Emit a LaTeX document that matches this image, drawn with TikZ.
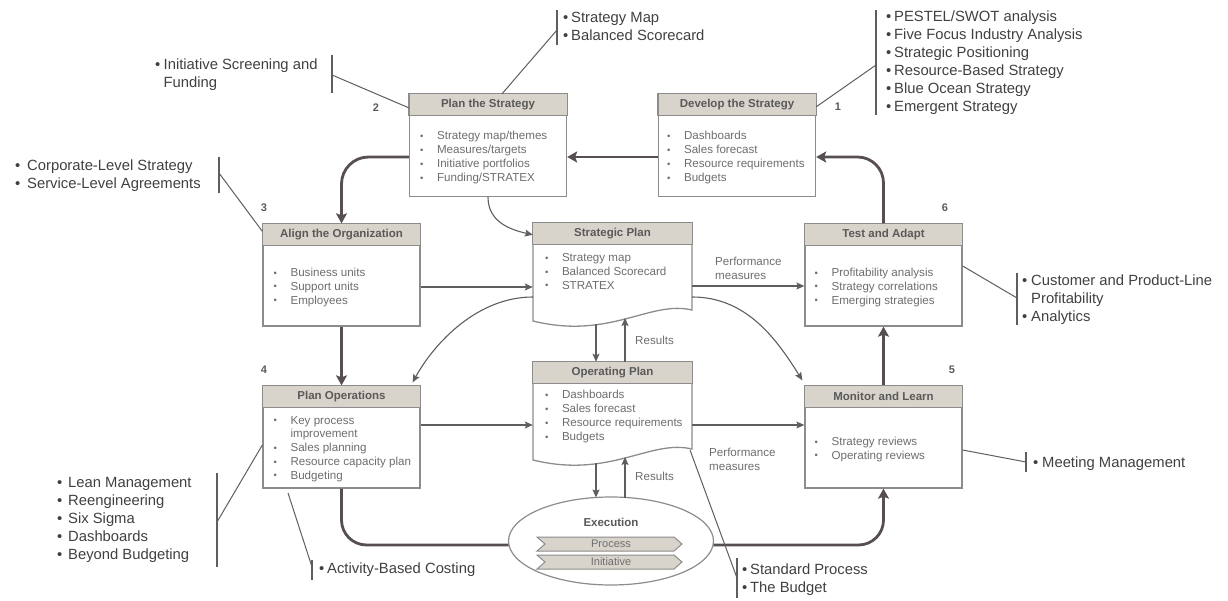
\documentclass[tikz,border=0pt]{standalone}
\usepackage{fontspec}
\setmainfont{Liberation Sans}
\usetikzlibrary{arrows.meta,shapes.geometric,calc}
\definecolor{boxline}{HTML}{8C8C8C}
\definecolor{headfill}{HTML}{D9D4CB}
\definecolor{headtext}{HTML}{5A5A5A}
\definecolor{bodytext}{HTML}{6E6E6E}
\definecolor{sidetext}{HTML}{404040}
\definecolor{thickc}{HTML}{574F4F}
\definecolor{thinc}{HTML}{5E5E5E}
\newcommand{\bbul}{\makebox[17pt][l]{\raisebox{0.3pt}{\fontsize{9.5}{9.5}\selectfont •}}}
\newcommand{\sbul}[1]{\makebox[#1][l]{•}}
\newcommand{\boxhead}[2]{%
  \draw[draw=boxline, line width=1.3pt, fill=headfill] (#1.north west) rectangle ([yshift=-22pt]#1.north east);
  \node[head] at ([yshift=-11pt]#1.north) {#2};}
\begin{document}
\begin{tikzpicture}[x=1pt,y=-1pt,
  box/.style={draw=boxline, line width=1.3pt, fill=white, minimum width=157pt, minimum height=102pt, inner sep=0pt},
  ghost/.style={inner sep=0pt, minimum width=159pt, minimum height=99pt},
  head/.style={font=\fontsize{11.5}{13}\selectfont\bfseries, text=headtext, inner sep=0pt},
  body/.style={anchor=north west, inner sep=0pt, align=left, font=\fontsize{11.6}{13.8}\selectfont, text=bodytext},
  side/.style={anchor=north west, inner sep=0pt, align=left, font=\fontsize{14.8}{18}\selectfont, text=sidetext},
  num/.style={font=\fontsize{11}{13}\selectfont\bfseries, text=headtext, inner sep=0pt},
  lab/.style={anchor=north west, inner sep=0pt, align=left, font=\fontsize{11.6}{14}\selectfont, text=bodytext},
  thickline/.style={draw=thickc, line width=2.8pt},
  thickarr/.style={thickline, -{Stealth[length=10pt,width=11pt,inset=2pt]}},
  thinarr/.style={draw=thinc, line width=1.1pt, -{Stealth[length=8pt,width=7pt,inset=1.5pt]}},
  callout/.style={draw=thinc, line width=1pt},
  bar/.style={draw=thinc, line width=1.2pt},
  shapeline/.style={draw=boxline, line width=1.3pt, fill=white},
]
\useasboundingbox (0,0) rectangle (1228,601);

% ---------- boxes ----------
\node[box] (ps) at (488,145.5) {};
\boxhead{ps}{Plan the Strategy}
\node[body] at ([xshift=11pt,yshift=-37.5pt]ps.north west) {\bbul Strategy map/themes\\\bbul Measures/targets\\\bbul Initiative portfolios\\\bbul Funding/STRATEX};

\node[box] (ds) at (737,145.5) {};
\boxhead{ds}{Develop the Strategy}
\node[body] at ([xshift=9pt,yshift=-37.5pt]ds.north west) {\bbul Dashboards\\\bbul Sales forecast\\\bbul Resource requirements\\\bbul Budgets};

\node[box] (al) at (341.5,275) {};
\boxhead{al}{Align the Organization}
\node[body] at ([xshift=11pt,yshift=-44.5pt]al.north west) {\bbul Business units\\\bbul Support units\\\bbul Employees};

\node[box] (ta) at (883.5,275) {};
\boxhead{ta}{Test and Adapt}
\node[body] at ([xshift=10pt,yshift=-44.5pt]ta.north west) {\bbul Profitability analysis\\\bbul Strategy correlations\\\bbul Emerging strategies};

\node[box] (po) at (341.5,437) {};
\boxhead{po}{Plan Operations}
\node[body] at ([xshift=11pt,yshift=-30.5pt]po.north west) {\bbul Key process\\\hspace*{17pt}improvement\\\bbul Sales planning\\\bbul Resource capacity plan\\\bbul Budgeting};

\node[box] (ml) at (883.5,437) {};
\boxhead{ml}{Monitor and Learn}
\node[body] at ([xshift=10pt,yshift=-51.5pt]ml.north west) {\bbul Strategy reviews\\\bbul Operating reviews};

% document shapes
\node[ghost] (sp) at (612.5,272.5) {};
\draw[shapeline] (533,223) -- (692,223) -- (692,310) .. controls (650,300) and (610,340) .. (533,321) -- cycle;
\boxhead{sp}{Strategic Plan}
\node[body] at ([xshift=12pt,yshift=-30.5pt]sp.north west) {\bbul Strategy map\\\bbul Balanced Scorecard\\\bbul STRATEX};

\node[ghost] (op) at (612.5,411.5) {};
\draw[shapeline] (533,362) -- (692,362) -- (692,449) .. controls (650,439) and (610,479) .. (533,460) -- cycle;
\boxhead{op}{Operating Plan}
\node[body] at ([xshift=12pt,yshift=-28.5pt]op.north west) {\bbul Dashboards\\\bbul Sales forecast\\\bbul Resource requirements\\\bbul Budgets};

% ---------- thick flow ----------
\draw[thickarr, rounded corners=26pt] (ta.north) |- ([yshift=-11.5pt]ds.east);
\draw[thickarr, line width=2.3pt] ([yshift=-11.5pt]ds.west) -- ([yshift=-11.5pt]ps.east);
\draw[thickarr, rounded corners=27pt] ([yshift=-11.5pt]ps.west) -| (al.north);
\draw[thickarr] (al.south) -- (po.north);
\draw[thickline, rounded corners=25pt] (po.south) |- (509,545);
\draw[thickarr, rounded corners=25pt] (713,545) -| (ml.south);
\draw[thickarr] (ml.north) -- (ta.south);

% ---------- execution ----------
\node[ellipse, draw=boxline, line width=1.2pt, fill=white, minimum width=205pt, minimum height=88pt, inner sep=0pt] (ex) at (611,541) {};
\node[head] at (611,522) {Execution};
\draw[draw=boxline, line width=1pt, fill=headfill] (537,537) -- (674,537) -- (682,544) -- (674,551) -- (537,551) -- (545,544) -- cycle;
\draw[draw=boxline, line width=1pt, fill=headfill] (537,555) -- (674,555) -- (682,562) -- (674,569) -- (537,569) -- (545,562) -- cycle;
\node[font=\fontsize{11}{12}\selectfont, text=bodytext] at (611,544) {Process};
\node[font=\fontsize{11}{12}\selectfont, text=bodytext] at (611,562) {Initiative};

% ---------- thin connectors ----------
\draw[thinarr] (ps.south) .. controls +(0,25) and +(-22,-5) .. ([yshift=-12pt]sp.north west);
\draw[thinarr] ([yshift=-12pt]al.east) -- ([yshift=-12pt]al.east -| sp.west);
\draw[thinarr] ([yshift=-13.5pt]sp.east) -- ([yshift=-13.5pt]sp.east -| ta.west);
\node[lab] at (715,257) {Performance\\measures};
\draw[thinarr] ([yshift=-24.5pt]sp.west) .. controls +(-55,0) and +(22,-40) .. ([xshift=-8pt,yshift=3pt]po.north east);
\draw[thinarr] ([yshift=-24.5pt]sp.east) .. controls +(55,0) and +(-25,-40) .. ([xshift=-2pt,yshift=5pt]ml.north west);
\draw[thinarr] ([yshift=12pt]po.east) -- ([yshift=12pt]po.east -| op.west);
\draw[thinarr] ([yshift=-13.5pt]op.east) -- ([yshift=-13.5pt]op.east -| ml.west);
\node[lab] at (709,448) {Performance\\measures};

\coordinate (spd) at (596,324);
\coordinate (spu) at (625,318);
\draw[thinarr] (spd) -- (spd |- op.north);
\draw[thinarr] (spu |- op.north) -- (spu);
\node[lab] at (635,336) {Results};
\coordinate (opd) at (596,463);
\coordinate (opu) at (625,457);
\coordinate (exd) at (596,497.5);
\coordinate (exu) at (625,497.8);
\draw[thinarr] (opd) -- (exd);
\draw[thinarr] (exu) -- (opu);
\node[lab] at (635,472) {Results};

% ---------- numbers ----------
\node[num] (n1) at (838,107) {1};
\node[num] (n2) at (376,108) {2};
\node[num] (n3) at (264,208) {3};
\node[num] (n4) at (264,370) {4};
\node[num] (n5) at (952,370) {5};
\node[num] (n6) at (945,208) {6};

% ---------- callouts ----------
\draw[bar] (332,55) -- (332,93);
\coordinate (c2) at (332,75);
\draw[callout] (c2) -- ([yshift=-14pt]ps.north west);
\node[side] (t2) at (155,59) {\sbul{8.5pt}Initiative Screening and\\\hspace*{8.5pt}Funding};

\draw[bar] (557,10) -- (557,45);
\coordinate (cm) at (557,30);
\draw[callout] (cm) -- ([xshift=14pt]ps.north);
\node[side] (tm) at (563,12) {\sbul{8pt}Strategy Map\\\sbul{8pt}Balanced Scorecard};

\draw[bar] (876,10) -- (876,115);
\coordinate (c1) at (876,65);
\draw[callout] (c1) -- ([yshift=-13pt]ds.north east);
\node[side] (t1) at (886,11) {\sbul{8pt}PESTEL/SWOT analysis\\\sbul{8pt}Five Focus Industry Analysis\\\sbul{8pt}Strategic Positioning\\\sbul{8pt}Resource-Based Strategy\\\sbul{8pt}Blue Ocean Strategy\\\sbul{8pt}Emergent Strategy};

\draw[bar] (219,157) -- (219,193);
\coordinate (c3) at (219,173);
\draw[callout] (c3) -- ([yshift=-8pt]al.north west);
\node[side] (t3) at (15,160) {\sbul{12pt}Corporate-Level Strategy\\\sbul{12pt}Service-Level Agreements};

\draw[bar] (1017,273) -- (1017,325);
\coordinate (c6) at (1017,298);
\draw[callout] (c6) -- ([yshift=9pt]ta.east);
\node[side] (t6) at (1022,275) {\sbul{9pt}Customer and Product-Line\\\hspace*{9pt}Profitability\\\sbul{9pt}Analytics};

\draw[bar] (1026,452) -- (1026,472);
\coordinate (c5) at (1026,462);
\draw[callout] (c5) -- ([yshift=-13pt]ml.east);
\node[side] (t5) at (1033,457) {\sbul{9pt}Meeting Management};

\draw[bar] (217,473) -- (217,567);
\coordinate (c4) at (217,522);
\draw[callout] (c4) -- ([yshift=-8pt]po.west);
\node[side] (t4) at (57,477) {\sbul{11pt}Lean Management\\\sbul{11pt}Reengineering\\\sbul{11pt}Six Sigma\\\sbul{11pt}Dashboards\\\sbul{11pt}Beyond Budgeting};

\draw[bar] (312,560) -- (312,580);
\coordinate (abc) at (288,493);
\coordinate (c4b) at (312,567);
\draw[callout] (abc) -- (c4b);
\node[side] (t4b) at (319,563) {\sbul{8pt}Activity-Based Costing};

\draw[bar] (737,558) -- (737,598);
\coordinate (opr) at (690,450);
\coordinate (cx) at (737,578);
\draw[callout] (opr) -- (cx);
\node[side] (tx) at (742,564) {\sbul{8pt}Standard Process\\\sbul{8pt}The Budget};
\end{tikzpicture}
\end{document}
